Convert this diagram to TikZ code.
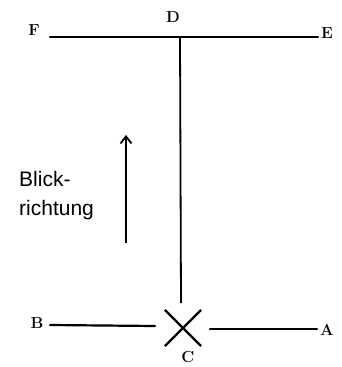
\documentclass[tikz,border=0pt]{standalone}
\usepackage{fontspec}
\setsansfont{Liberation Sans}
\usetikzlibrary{arrows.meta,positioning,shapes.misc}

\begin{document}
\begin{tikzpicture}[
  x=1pt, y=-1pt,
  pt/.style={font=\fontsize{16}{18}\selectfont\bfseries, inner sep=0pt},
  bar/.style={line width=2.2pt, line cap=round},
  stem/.style={line width=1.8pt},
  arr/.style={-{Straight Barb[length=7pt,width=11pt,line width=1.8pt]}, line width=1.9pt}
]
\useasboundingbox (0,0) rectangle (342,367);

% end points of the lines
\coordinate (fend) at (50,37);
\coordinate (eend) at (318,37);
\coordinate (dtop) at (180,37);
\coordinate (dbot) at (181,303);
\coordinate (bend) at (50,325);
\coordinate (bcut) at (155,326);
\coordinate (acut) at (210,329);
\coordinate (aend) at (317,329);
\coordinate (arrlow) at (126,243);
\coordinate (arrhigh) at (126,135);

% point labels
\node[pt] (F) at (34,30) {F};
\node[pt] (D) at (173,17) {D};
\node[pt] (E) at (327,33) {E};
\node[pt] (B) at (37,323) {B};
\node[pt] (A) at (327,330) {A};
\node[pt] (C) at (188,357) {C};

% cross at C
\node[cross out, draw, line width=2.2pt, minimum size=34pt, inner sep=0pt] (cross) at (183,328) {};

\node[anchor=west, align=left, inner sep=0pt, font=\sffamily\fontsize{21}{29}\selectfont] (blick) at (19,196) {Blick-\\richtung};

\draw[bar] (fend) -- (eend);
\draw[stem] (dtop) -- (dbot);
\draw[bar] (bend) -- (bcut);
\draw[bar] (acut) -- (aend);
\draw[arr] (arrlow) -- (arrhigh);
\end{tikzpicture}
\end{document}
